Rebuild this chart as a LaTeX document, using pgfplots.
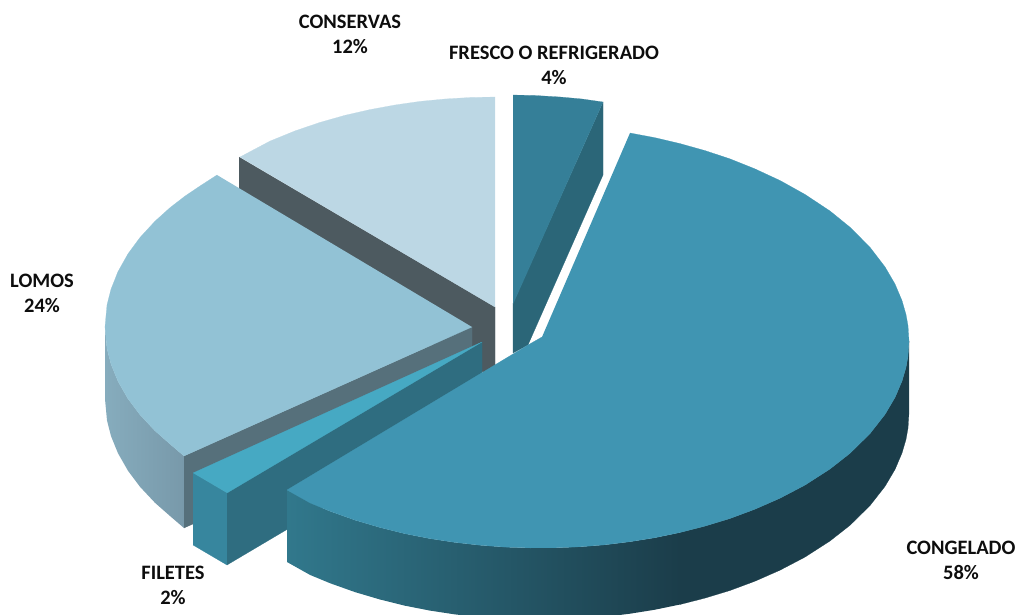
\documentclass[border=0pt]{standalone}
\usepackage{pgfplots}
\pgfplotsset{compat=1.18}
\usepackage{fontspec}
\setmainfont{Carlito}
\definecolor{conT}{HTML}{BCD7E4}
\definecolor{conS}{HTML}{4D5A60}
\definecolor{freT}{HTML}{357F98}
\definecolor{freS}{HTML}{2B6678}
\definecolor{lomT}{HTML}{92C2D5}
\definecolor{lomS}{HTML}{56707B}
\definecolor{lomL}{HTML}{86ACBD}
\definecolor{lomR}{HTML}{7899AA}
\definecolor{filT}{HTML}{46A9C3}
\definecolor{filF}{HTML}{37869E}
\definecolor{filS}{HTML}{2F6D80}
\definecolor{cngT}{HTML}{4095B2}
\definecolor{cngL}{HTML}{31788C}
\definecolor{cngD}{HTML}{1B3D4A}
\tikzset{lbl/.style={font=\bfseries\fontsize{20.5}{25}\selectfont,align=center,text=black!95,inner sep=0pt}}
\begin{document}
\begin{tikzpicture}
\useasboundingbox (0,0) rectangle (1018pt,615pt);
\begin{axis}[hide axis,scale only axis,width=1018pt,height=615pt,
  xmin=0,xmax=1018,ymin=0,ymax=615,y dir=reverse,clip=true]
% CONSERVAS
\addplot[fill=conS,draw=conS,line width=0.2pt] coordinates {(239,157)(495,307)(495,379)(239,229)};
\addplot[fill=conT,draw=conT,line width=0.2pt] coordinates {(495,97)(470,97.5)(445,99)(420,101.4)(395,105)(370,109.6)(345,115.3)(320,122.4)(295,130.9)(270,141.1)(240,157)(495,307)};
% FRESCO
\addplot[fill=freS,draw=freS,line width=0.2pt] coordinates {(603,102)(603,175)(528,345)(513,353)(513,303)};
\addplot[fill=freT,draw=freT,line width=0.2pt] coordinates {(513,95)(535,95.5)(560,97)(582,99)(603,102)(513,304)};
% LOMOS
\addplot[left color=lomL,right color=lomR,draw=none] coordinates {(105,327)(107,348.5)(111,364.1)(118,381.3)(128,398.8)(140,414.8)(155,430.8)(170,444)(184,456)(184,528)(170,516)(155,502.8)(140,486.8)(128,470.8)(118,453.3)(111,436.1)(107,420.5)(105,399)};
\addplot[fill=lomS,draw=lomS,line width=0.2pt] coordinates {(184,456)(472,327)(472,399)(184,528)};
\addplot[fill=lomT,draw=lomT,line width=0.2pt] coordinates {(217,175)(200,186)(185,196.1)(170,207.7)(155,221.2)(140,237.5)(128,253.8)(118,271.6)(111,289.2)(107,305.1)(105,327)(107,348.5)(111,364.1)(118,381.3)(128,398.8)(140,414.8)(155,430.8)(170,444)(184,456)(472,327)};
% FILETES
\addplot[fill=filF,draw=filF,line width=0.2pt] coordinates {(193,473)(227,493)(227,565)(193,545)};
\addplot[fill=filS,draw=filS,line width=0.2pt] coordinates {(227,493)(482,342)(482,414)(227,565)};
\addplot[fill=filT,draw=filT,line width=0.2pt] coordinates {(193,473)(482,342)(227,493)};
% CONGELADO
\addplot[fill=cngD,draw=cngD,line width=0.2pt] coordinates {(909,341)(908,356.2)(906,367.4)(902,381.1)(895,397.5)(885,414.4)(870,433.6)(850,453.3)(830,469)(805,485.1)(780,498.2)(755,509.2)(730,518.5)(705,526.1)(680,532.5)(680,604.5)(705,598.1)(730,590.5)(755,581.2)(780,570.2)(805,557.1)(830,541)(850,525.3)(870,505.6)(885,486.4)(895,469.5)(902,453.1)(906,439.4)(908,428.2)(909,413)};
\addplot[left color=cngL,right color=cngD,draw=none] coordinates {(287,490)(310,502.9)(330,511.2)(355,520.1)(380,527.5)(405,533.7)(430,538.6)(455,542.4)(480,545.2)(505,547.1)(530,547.9)(555,547.8)(580,546.8)(605,544.8)(630,541.7)(655,537.7)(680,532.5)(680,604.5)(655,609.7)(630,613.7)(605,616.8)(580,618.8)(555,619.8)(530,619.9)(505,619.1)(480,617.2)(455,614.4)(430,610.6)(405,605.7)(380,599.5)(355,592.1)(330,583.2)(310,574.9)(287,562)};
\addplot[fill=cngT,draw=cngT,line width=0.2pt] coordinates {(630,133)(655,137.7)(680,143.6)(705,150.6)(730,158.9)(755,168.9)(780,180.5)(805,194.4)(830,211)(850,227.2)(870,247.3)(885,266.9)(895,284)(902,300.6)(906,314.5)(908,325.7)(909,341)(908,356.2)(906,367.4)(902,381.1)(895,397.5)(885,414.4)(870,433.6)(850,453.3)(830,469)(805,485.1)(780,498.2)(755,509.2)(730,518.5)(705,526.1)(680,532.5)(655,537.7)(630,541.7)(605,544.8)(580,546.8)(555,547.8)(530,547.9)(505,547.1)(480,545.2)(455,542.4)(430,538.6)(405,533.7)(380,527.5)(355,520.1)(330,511.2)(310,502.9)(287,490)(528,345)(542,337)};
% LABELS
\node[lbl] at (axis cs:350,34.5) {CONSERVAS\\12\%};
\node[lbl] at (axis cs:554,65.5) {FRESCO O REFRIGERADO\\4\%};
\node[lbl] at (axis cs:42,293.5) {LOMOS\\24\%};
\node[lbl] at (axis cs:173,585) {FILETES\\2\%};
\node[lbl] at (axis cs:961,560) {CONGELADO\\58\%};
\end{axis}
\end{tikzpicture}
\end{document}
